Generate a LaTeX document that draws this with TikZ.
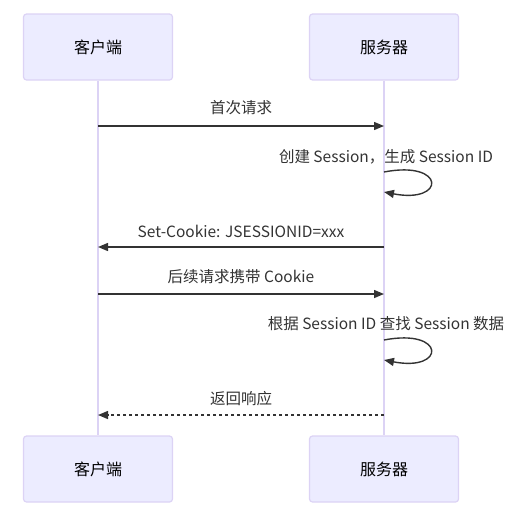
\documentclass[tikz,border=0pt]{standalone}
\usepackage{fontspec}
\setmainfont{Noto Sans CJK SC}
\usetikzlibrary{arrows.meta}
\definecolor{actfill}{HTML}{ECECFF}
\definecolor{actline}{HTML}{DCD3F5}
\definecolor{msg}{HTML}{333333}
\begin{document}
\begin{tikzpicture}[x=1pt,y=-1pt,
  actor/.style={draw=actline,fill=actfill,line width=1.2pt,rounded corners=3pt,
    minimum width=149pt,minimum height=66pt,inner sep=0pt,
    font=\fontsize{16}{19}\selectfont,text=black},
  life/.style={draw=actline,line width=1.5pt},
  msgline/.style={draw=msg,line width=1.4pt,-{Triangle[length=10pt,width=8pt]}},
  msgtext/.style={font=\fontsize{15.5}{18}\selectfont,text=msg,inner sep=0pt},
  loopline/.style={draw=msg,line width=1.4pt,-{Triangle[length=10pt,width=8pt]}}
]
\useasboundingbox (0,0) rectangle (526,512);
% actors
\node[actor] (ct) at (98,47) {客户端};
\node[actor] (st) at (384,47) {服务器};
\node[actor] (cb) at (98,469) {客户端};
\node[actor] (sb) at (384,469) {服务器};
% lifelines
\draw[life] (ct.south) -- (cb.north);
\draw[life] (st.south) -- (sb.north);
% coordinates on lifelines
\coordinate (c1) at (98,126);   \coordinate (s1) at (384,126);
\coordinate (s2a) at (384,172); \coordinate (s2b) at (384,192);
\coordinate (c3) at (98,247);   \coordinate (s3) at (384,247);
\coordinate (c4) at (98,294);   \coordinate (s4) at (384,294);
\coordinate (s5a) at (384,340); \coordinate (s5b) at (384,360);
\coordinate (c6) at (98,415);   \coordinate (s6) at (384,415);
% messages
\draw[msgline] (c1) -- (s1);
\node[msgtext] (t1) at (241,108) {首次请求};
\draw[loopline] (s2a) .. controls (446,160) and (446,204) .. (s2b);
\node[msgtext] (t2) at (386,157) {创建 Session，生成 Session ID};
\draw[msgline] (s3) -- (c3);
\node[msgtext] (t3) at (241,231) {Set-Cookie: JSESSIONID=xxx};
\draw[msgline] (c4) -- (s4);
\node[msgtext] (t4) at (241,277) {后续请求携带 Cookie};
\draw[loopline] (s5a) .. controls (446,328) and (446,372) .. (s5b);
\node[msgtext] (t5) at (386,324) {根据 Session ID 查找 Session 数据};
\draw[msgline,dash pattern=on 3pt off 3pt] (s6) -- (c6);
\node[msgtext] (t6) at (241,399) {返回响应};
\end{tikzpicture}
\end{document}
